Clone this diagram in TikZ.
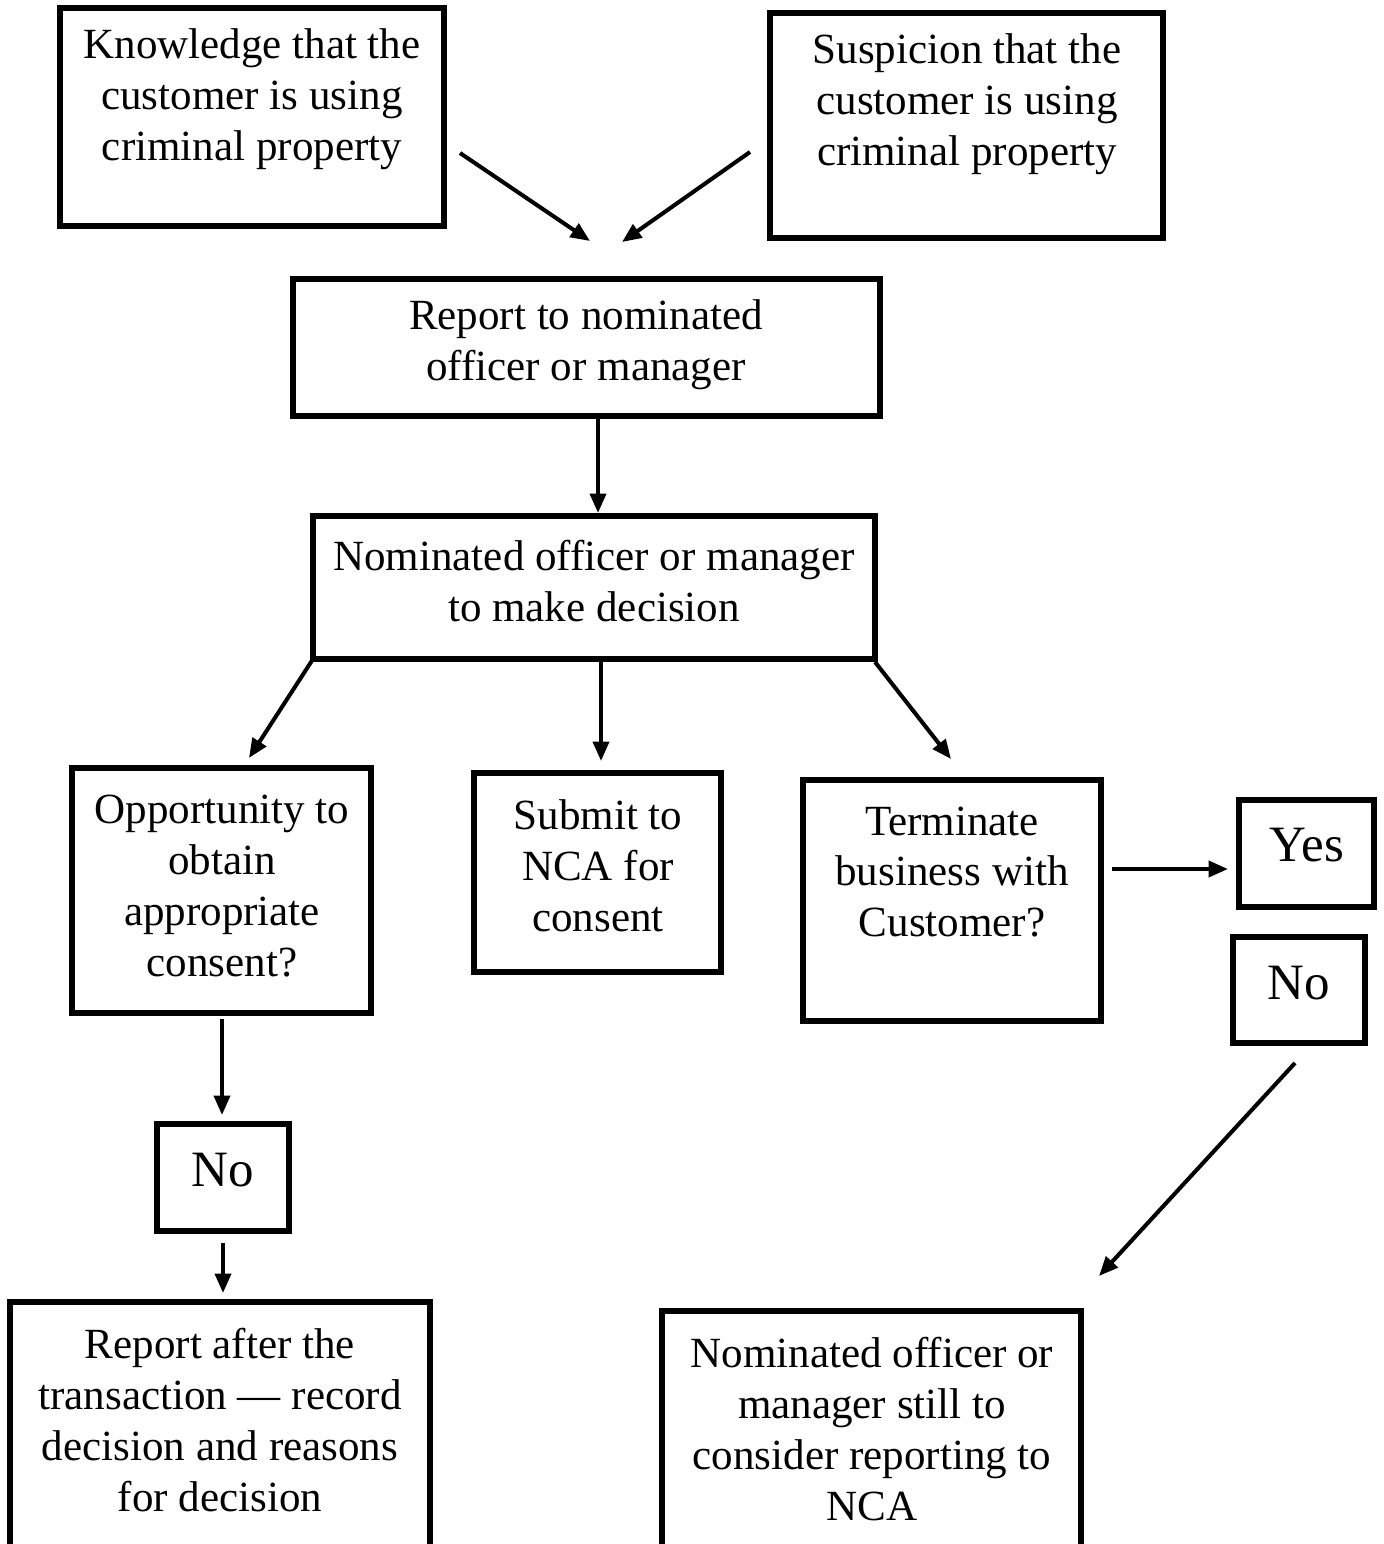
\documentclass[tikz,border=0pt]{standalone}
\usepackage{fontspec}
\setmainfont{Liberation Serif}
\usetikzlibrary{arrows.meta}
\tikzset{
  boxshape/.style={draw, line width=2.9pt, rectangle, inner sep=0pt},
  boxtext/.style={align=center, inner sep=0pt, font=\fontsize{24.5pt}{29pt}\selectfont},
  bigtext/.style={align=center, inner sep=0pt, font=\fontsize{29pt}{33pt}\selectfont},
  flow/.style={line width=2.3pt, -{Triangle[length=11pt,width=9pt]}}
}
\newcommand{\flowbox}[6]{% name, x1, y1, x2, y2
  \node[boxshape, minimum width={(#4-#2)*0.02cm}, minimum height={(#5-#3)*0.02cm}] (#1) at ({(#2+#4)/2},{(#3+#5)/2}) {};
}
\begin{document}
\begin{tikzpicture}[x=0.02cm,y=-0.02cm]
\useasboundingbox (0,0) rectangle (1383,1544);
\clip (0,0) rectangle (1383,1544);
% boxes
\flowbox{know}{60}{8}{444}{226}{}
\flowbox{susp}{770}{13}{1163}{238}{}
\flowbox{rep}{293}{279}{880}{416}{}
\flowbox{dec}{313}{516}{875}{659}{}
\flowbox{opp}{72}{768}{371}{1013}{}
\flowbox{sub}{474}{773}{721}{972}{}
\flowbox{term}{803}{780}{1101}{1021}{}
\flowbox{yes}{1239}{800}{1374}{907}{}
\flowbox{nor}{1233}{937}{1365}{1043}{}
\flowbox{nol}{157}{1124}{289}{1231}{}
\flowbox{after}{10}{1302}{430}{1600}{}
\flowbox{still}{662}{1311}{1081}{1600}{}
% texts
\node[boxtext] (knowT) at (252,99) {Knowledge that the\\customer is using\\criminal property};
\node[boxtext] (suspT) at (967,104) {Suspicion that the\\customer is using\\criminal property};
\node[boxtext] (repT) at (586,345) {Report to nominated\\officer or manager};
\node[boxtext] (decT) at (594,581) {Nominated officer or manager\\to make decision};
\node[boxtext] (oppT) at (222,886) {Opportunity to\\obtain\\appropriate\\consent?};
\node[boxtext] (subT) at (598,866) {Submit to\\NCA for\\consent};
\node[boxtext] (termT) at (952,872) {Terminate\\business with\\Customer?};
\node[bigtext] (yesT) at (1307,845) {Yes};
\node[bigtext] (norT) at (1299,983) {No};
\node[bigtext] (nolT) at (223,1170) {No};
\node[boxtext] (afterT) at (220,1420) {Report after the\\transaction --- record\\decision and reasons\\for decision};
\node[boxtext] (stillT) at (872,1429) {Nominated officer or\\manager still to\\consider reporting to\\NCA};
% connector end points
\coordinate (k1) at (460,153); \coordinate (k2) at (590,241);
\coordinate (s1) at (750,152); \coordinate (s2) at (622,242);
\coordinate (r1) at (598,418); \coordinate (r2) at (598,513);
\coordinate (d1) at (313,659); \coordinate (d2) at (249,758);
\coordinate (d3) at (601,661); \coordinate (d4) at (601,761);
\coordinate (d5) at (875,662); \coordinate (d6) at (951,759);
\coordinate (t1) at (1112,869); \coordinate (t2) at (1228,869);
\coordinate (o1) at (222,1019); \coordinate (o2) at (222,1115);
\coordinate (n1) at (223,1243); \coordinate (n2) at (223,1293);
\coordinate (m1) at (1295,1063); \coordinate (m2) at (1099,1276);
\draw[flow] (k1) -- (k2);
\draw[flow] (s1) -- (s2);
\draw[flow] (r1) -- (r2);
\draw[flow] (d1) -- (d2);
\draw[flow] (d3) -- (d4);
\draw[flow] (d5) -- (d6);
\draw[flow] (t1) -- (t2);
\draw[flow] (o1) -- (o2);
\draw[flow] (n1) -- (n2);
\draw[flow] (m1) -- (m2);
\end{tikzpicture}
\end{document}
